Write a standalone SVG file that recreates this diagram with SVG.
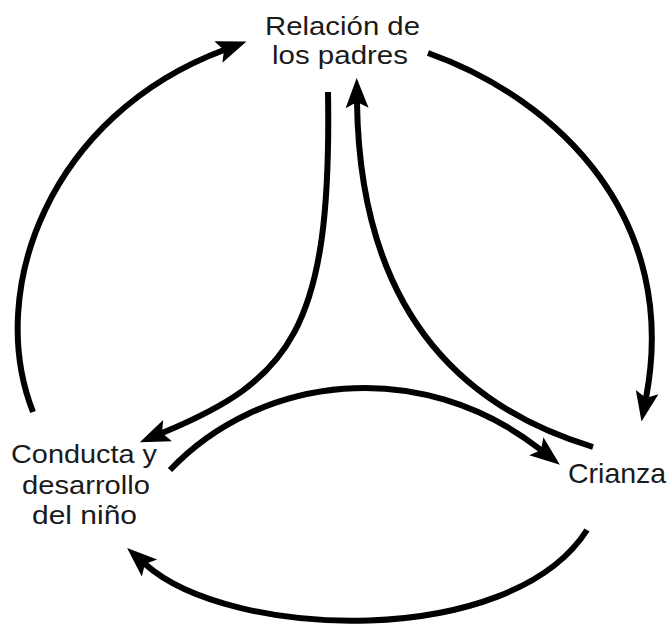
<svg xmlns="http://www.w3.org/2000/svg" width="672" height="626" viewBox="0 0 672 626">
  <defs>
    <style>
      .lbl { font-family: "Liberation Sans", Arial, sans-serif; fill: #1a1a1a; }
      .conn { fill: none; stroke: #000; stroke-width: 6; stroke-linecap: butt; }
    </style>
    <marker id="arrow" markerUnits="userSpaceOnUse" viewBox="-10 -14 36 28" refX="0" refY="0" markerWidth="36" markerHeight="28" orient="auto" overflow="visible">
      <path d="M24,0 L-6,-11.5 L0,0 L-6,11.5 Z" fill="#000"/>
    </marker>
  </defs>
  <rect width="672" height="626" fill="#fff"/>

  <g id="connectors">
    <!-- outer cycle -->
    <path id="c-conducta-relacion" class="conn" d="M33,412 C-15,290 50,115 224,50" marker-end="url(#arrow)"/>
    <path id="c-relacion-crianza" class="conn" d="M428,53 C560,100 680,220 646,398" marker-end="url(#arrow)"/>
    <path id="c-crianza-conducta" class="conn" d="M587,530 C510,650 230,640 145,564" marker-end="url(#arrow)"/>
    <!-- inner curves -->
    <path id="c-relacion-conducta" class="conn" d="M328,92 C332,330 290,380 162,433" marker-end="url(#arrow)"/>
    <path id="c-crianza-relacion" class="conn" d="M593,447 C470,410 360,320 357,102" marker-end="url(#arrow)"/>
    <path id="c-conducta-crianza" class="conn" d="M170,470 C260,375 420,355 541,450" marker-end="url(#arrow)"/>
  </g>

  <g id="node-relacion">
    <text class="lbl" font-size="25"><tspan x="265" y="35" textLength="155" lengthAdjust="spacingAndGlyphs">Relación de</tspan><tspan x="272" y="64" textLength="136" lengthAdjust="spacingAndGlyphs">los padres</tspan></text>
  </g>

  <g id="node-conducta">
    <text class="lbl" font-size="26"><tspan x="11" y="463" textLength="146" lengthAdjust="spacingAndGlyphs">Conducta y</tspan><tspan x="22" y="493.5" textLength="128" lengthAdjust="spacingAndGlyphs">desarrollo</tspan><tspan x="32" y="524" textLength="105" lengthAdjust="spacingAndGlyphs">del niño</tspan></text>
  </g>

  <g id="node-crianza">
    <text class="lbl" x="568" y="483" font-size="28.5">Crianza</text>
  </g>
</svg>
